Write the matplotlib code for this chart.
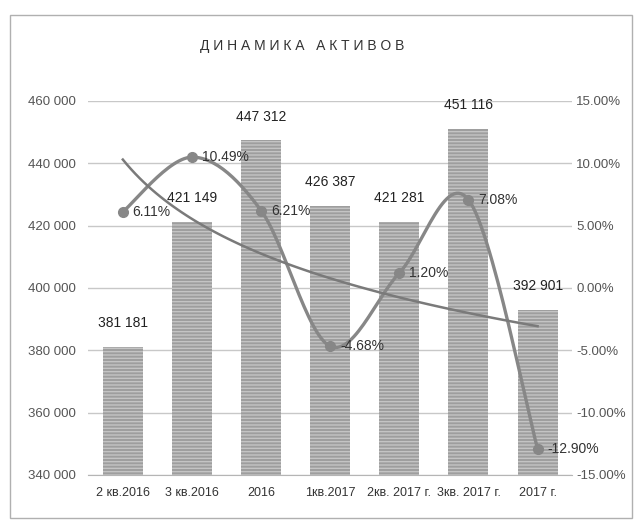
import numpy as np
import matplotlib
matplotlib.use("Agg")
import matplotlib.pyplot as plt
from matplotlib.patches import Rectangle
from matplotlib import font_manager

names = set(f.name for f in font_manager.fontManager.ttflist)
if 'Liberation Sans Narrow' in names:
    plt.rcParams['font.family'] = ['Liberation Sans Narrow', 'DejaVu Sans']
else:
    plt.rcParams['font.family'] = ['Liberation Sans', 'DejaVu Sans']

# data
periods = ['2 кв.2016', '3 кв.2016', '2016', '1кв.2017', '2кв. 2017 г.', '3кв. 2017 г.', '2017 г.']
assets = [381181, 421149, 447312, 426387, 421281, 451116, 392901]
growth = [6.11, 10.49, 6.21, -4.68, 1.20, 7.08, -12.90]


def fmt_thousands(v):
    return '{:,}'.format(int(v)).replace(',', ' ')


def smooth(x, y, n=30):
    # catmull-rom style smoothing, like excel's "smoothed line"
    x = np.asarray(x, float)
    y = np.asarray(y, float)
    px = np.concatenate([[x[0]], x, [x[-1]]])
    py = np.concatenate([[y[0]], y, [y[-1]]])
    xs, ys = [], []
    for i in range(1, len(px) - 2):
        p0, p1, p2, p3 = [np.array([px[j], py[j]]) for j in (i - 1, i, i + 1, i + 2)]
        c1 = p1 + (p2 - p0) / 6
        c2 = p2 - (p3 - p1) / 6
        t = np.linspace(0, 1, n)[:, None]
        b = (1 - t) ** 3 * p1 + 3 * (1 - t) ** 2 * t * c1 + 3 * (1 - t) * t ** 2 * c2 + t ** 3 * p2
        xs.extend(b[:, 0])
        ys.extend(b[:, 1])
    return np.array(xs), np.array(ys)


fig = plt.figure(figsize=(6.35, 5.23), dpi=100)
fig.patches.append(Rectangle((0.015, 0.01), 0.98, 0.962, transform=fig.transFigure,
                             fill=False, edgecolor='#b0b0b0', linewidth=1.0))

ax = fig.add_axes([0.139, 0.092, 0.762, 0.715])
x = np.arange(len(periods))

bars = ax.bar(x, assets, width=0.58, color='#9e9e9e', edgecolor='#c4c4c4',
              hatch='-----', linewidth=0, zorder=2)
ax.set_ylim(340000, 460000)
ax.set_yticks(np.arange(340000, 460001, 20000))
ax.set_yticklabels([fmt_thousands(v) for v in ax.get_yticks()], fontsize=9.5, color='#555555')
ax.set_xlim(-0.5, len(periods) - 0.5)
ax.set_xticks(x)
ax.set_xticklabels(periods, fontsize=9, color='#333333')
ax.grid(axis='y', color='#c8c8c8', linewidth=1.0, zorder=0)
for s in ['top', 'right', 'left']:
    ax.spines[s].set_visible(False)
ax.spines['bottom'].set_color('#b5b5b5')
ax.tick_params(length=0, pad=9)

for b, v in zip(bars, assets):
    ax.annotate(fmt_thousands(v), (b.get_x() + b.get_width() / 2, v),
                xytext=(0, 12), textcoords='offset points', ha='center', va='bottom',
                fontsize=10, color='#222222')

ax2 = ax.twinx()
ax2.set_ylim(-15, 15)
ax2.set_yticks(np.arange(-15, 15.1, 5))
ax2.set_yticklabels(['{:.2f}%'.format(v) for v in ax2.get_yticks()], fontsize=9.5, color='#555555')
for s in ax2.spines.values():
    s.set_visible(False)
ax2.tick_params(length=0, pad=3)

sx, sy = smooth(x, growth)
ax2.plot(sx, sy, color='#878787', linewidth=2.4, zorder=3)
ax2.plot(x, growth, 'o', color='#878787', markersize=7, zorder=4)

# logarithmic trend line
k, c = np.polyfit(np.log(x + 1), growth, 1)
tx = np.linspace(0, len(periods) - 1, 100)
ax2.plot(tx, k * np.log(tx + 1) + c, color='#7a7a7a', linewidth=1.8, zorder=3)

for xi, g in zip(x, growth):
    ax2.annotate('{:.2f}%'.format(g), (xi, g), xytext=(7, 0), textcoords='offset points',
                 ha='left', va='center', fontsize=10, color='#333333', zorder=5)

fig.text(0.476, 0.913, 'Д И Н А М И К А   А К Т И В О В', ha='center', va='center',
         fontsize=10, color='#333333')

fig.savefig('out.png', dpi=100)
